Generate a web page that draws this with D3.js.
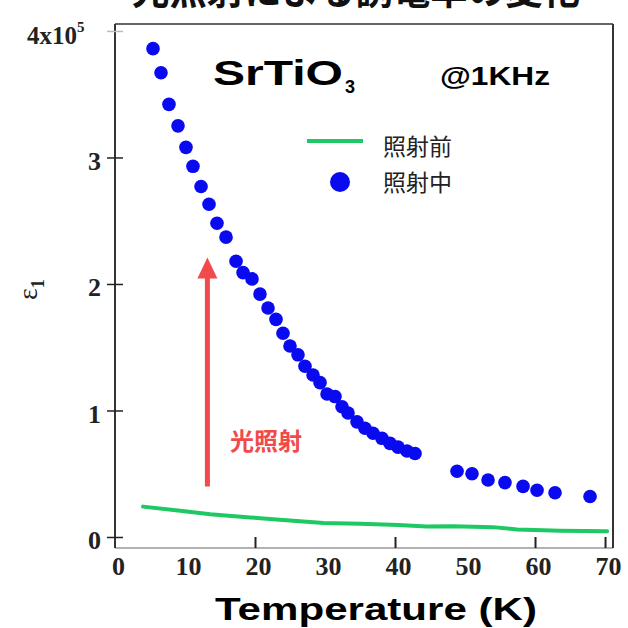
<!DOCTYPE html>
<html>
<head>
<meta charset="utf-8">
<script src="https://cdn.jsdelivr.net/npm/d3@7"></script>
<style>
  body { margin: 0; background: #fff; }
  svg { display: block; }
</style>
</head>
<body>
<div id="chart"></div>
<script>
// data (T in K, eps in units of 1e5)
var xTickLabels = [0, 10, 20, 30, 40, 50, 60, 70];
var xTickMarks = [20, 40, 60, 70];
var yTickLabels = [0, 1, 2, 3];

var beforeT = [4.0, 9.0, 13.6, 19.3, 24.0, 29.8, 35.0, 40.5, 44.5, 48.3, 54.0, 57.4, 63.6, 70.3];
var beforeEps = [0.24, 0.21, 0.18, 0.155, 0.135, 0.11, 0.105, 0.095, 0.083, 0.085, 0.078, 0.06, 0.05, 0.045];

var duringT = [5.43, 6.57, 7.71, 9.0, 10.14, 11.14, 12.29, 13.43, 14.57, 15.86, 17.29, 18.29, 19.57,
  20.71, 21.86, 23.0, 24.0, 25.0, 26.14, 27.14, 28.29, 29.29, 30.29, 31.43, 32.43, 33.29, 34.57,
  35.71, 36.86, 38.14, 39.29, 40.43, 41.71, 42.86, 48.86, 51.0, 53.29, 55.71, 58.29, 60.29, 62.86, 67.86];
var duringEps = [3.86, 3.67, 3.42, 3.25, 3.08, 2.93, 2.77, 2.63, 2.48, 2.37, 2.18, 2.09, 2.04,
  1.92, 1.81, 1.72, 1.61, 1.51, 1.44, 1.35, 1.28, 1.22, 1.13, 1.11, 1.03, 0.98, 0.91,
  0.86, 0.82, 0.78, 0.74, 0.71, 0.68, 0.66, 0.52, 0.50, 0.45, 0.43, 0.40, 0.37, 0.35, 0.32];

var legendLabels = ["照射前", "照射中"];

var W = 628, H = 628;
var serif = "'Liberation Serif', 'Times New Roman', serif";
var sans = "'Liberation Sans', Arial, sans-serif";
var cjk = "'Noto Sans CJK JP', 'Noto Sans CJK SC', sans-serif";

var x = d3.scaleLinear().domain([0, 71.14]).range([115, 613]);
var y = d3.scaleLinear().domain([-0.087, 4.055]).range([548, 24]);

var svg = d3.select("#chart").append("svg")
  .attr("width", W)
  .attr("height", H);

// title, cut off by the top edge like in the original
svg.append("text")
  .attr("x", 132)
  .attr("y", 4)
  .attr("textLength", 448)
  .attr("lengthAdjust", "spacingAndGlyphs")
  .style("font-family", cjk)
  .style("font-weight", "bold")
  .style("font-size", "40px")
  .style("fill", "#111")
  .text("光照射による誘電率の変化");

// frame
var x0 = x.range()[0], x1 = x.range()[1], y0 = y.range()[0], y1 = y.range()[1];
svg.append("line").attr("x1", x0).attr("x2", x1).attr("y1", y0).attr("y2", y0)
  .attr("stroke", "#999").attr("stroke-width", 1.5);
svg.append("line").attr("x1", x0).attr("x2", x1).attr("y1", y1).attr("y2", y1)
  .attr("stroke", "#333").attr("stroke-width", 1.5);
svg.append("line").attr("x1", x1).attr("x2", x1).attr("y1", y1).attr("y2", y0)
  .attr("stroke", "#333").attr("stroke-width", 2);
svg.append("line").attr("x1", x0).attr("x2", x0).attr("y1", y1).attr("y2", y0)
  .attr("stroke", "#333").attr("stroke-width", 2);

// x axis: labels
var xAxis = d3.axisBottom(x).tickValues(xTickLabels).tickSize(0).tickPadding(27)
  .tickFormat(d3.format("d"));
var gx = svg.append("g")
  .attr("transform", "translate(3," + y0 + ")")
  .call(xAxis);
gx.select(".domain").remove();
gx.selectAll("text")
  .attr("dy", 0)
  .style("font-family", serif)
  .style("font-weight", "bold")
  .style("font-size", "26px")
  .style("fill", "#222");

// x axis: inward tick marks
var xMarks = d3.axisBottom(x).tickValues(xTickMarks).tickSize(-11).tickFormat("");
var gm = svg.append("g")
  .attr("transform", "translate(0," + y0 + ")")
  .call(xMarks);
gm.select(".domain").remove();
gm.selectAll("line").attr("stroke", "#222").attr("stroke-width", 2);

// y axis with crossing ticks
var yAxis = d3.axisLeft(y).tickValues(yTickLabels.concat([4])).tickSize(8).tickPadding(0)
  .tickFormat(function (d) { return d === 4 ? "" : d; });
var gy = svg.append("g")
  .attr("transform", "translate(" + x0 + ",0)")
  .call(yAxis);
gy.select(".domain").remove();
gy.selectAll("line")
  .attr("x1", 8).attr("x2", -8)
  .attr("stroke", function (d) { return d === 4 ? "#bbb" : "#222"; })
  .attr("stroke-width", 1.5);
gy.selectAll("text")
  .attr("x", -14)
  .attr("dy", 12)
  .style("font-family", serif)
  .style("font-weight", "bold")
  .style("font-size", "26px")
  .style("fill", "#222");

// 4x10^5 label
var top4 = svg.append("text")
  .attr("x", 27)
  .attr("y", y(4) + 13)
  .style("font-family", serif)
  .style("font-weight", "bold")
  .style("font-size", "25px")
  .style("fill", "#222");
top4.append("tspan").text("4x10");
top4.append("tspan").attr("dy", -12).style("font-size", "15px").text("5");

// y axis title (rotated epsilon_1)
var yt = svg.append("text")
  .attr("transform", "translate(37,300) rotate(-90)")
  .style("font-family", serif)
  .style("font-size", "28px")
  .style("fill", "#222");
yt.append("tspan").text("ε");
yt.append("tspan").attr("dy", 7).style("font-size", "18px").style("font-weight", "bold").text("1");

// x axis title
svg.append("text")
  .attr("x", 215)
  .attr("y", 620)
  .attr("textLength", 322)
  .attr("lengthAdjust", "spacingAndGlyphs")
  .style("font-family", sans)
  .style("font-weight", "bold")
  .style("font-size", "31px")
  .style("fill", "#000")
  .text("Temperature (K)");

// before illumination (green line)
var beforeData = beforeT.map(function (t, i) { return { t: t, e: beforeEps[i] }; });
var line = d3.line()
  .x(function (d) { return x(d.t); })
  .y(function (d) { return y(d.e); });
svg.append("path")
  .datum(beforeData)
  .attr("d", line)
  .attr("fill", "none")
  .attr("stroke", "#1ec864")
  .attr("stroke-width", 4)
  .attr("stroke-linecap", "round");

// during illumination (blue dots)
var duringData = duringT.map(function (t, i) { return { t: t, e: duringEps[i] }; });
svg.selectAll(".dot")
  .data(duringData)
  .enter().append("circle")
  .attr("class", "dot")
  .attr("cx", function (d) { return x(d.t); })
  .attr("cy", function (d) { return y(d.e); })
  .attr("r", 6.8)
  .attr("fill", "#0a0af0");

// red arrow + label
var arrowX = x(13.2), arrowBot = y(0.40), arrowTop = y(2.21);
svg.append("line")
  .attr("x1", arrowX).attr("x2", arrowX)
  .attr("y1", arrowBot).attr("y2", arrowTop + 18)
  .attr("stroke", "#f24a4a").attr("stroke-width", 5);
svg.append("path")
  .attr("d", "M" + arrowX + "," + arrowTop + " L" + (arrowX - 10) + "," + (arrowTop + 21) +
    " L" + (arrowX + 10) + "," + (arrowTop + 21) + " Z")
  .attr("fill", "#f24a4a");
svg.append("text")
  .attr("x", 230)
  .attr("y", 450)
  .style("font-family", cjk)
  .style("font-weight", "bold")
  .style("font-size", "24px")
  .style("fill", "#f24a4a")
  .text("光照射");

// sample and frequency
var st = svg.append("text")
  .attr("x", 213)
  .attr("y", 85)
  .style("font-family", sans)
  .style("font-weight", "bold")
  .style("fill", "#000");
st.append("tspan").attr("textLength", 130).attr("lengthAdjust", "spacingAndGlyphs")
  .style("font-size", "35px").text("SrTiO");
st.append("tspan").attr("dy", 8).attr("dx", 2).style("font-size", "18px").text("3");

svg.append("text")
  .attr("x", 440)
  .attr("y", 85)
  .attr("textLength", 110)
  .attr("lengthAdjust", "spacingAndGlyphs")
  .style("font-family", sans)
  .style("font-weight", "bold")
  .style("font-size", "25px")
  .style("fill", "#000")
  .text("@1KHz");

// legend
svg.append("line")
  .attr("x1", 307).attr("x2", 363).attr("y1", 141).attr("y2", 141)
  .attr("stroke", "#1ec864").attr("stroke-width", 4);
svg.append("circle")
  .attr("cx", 340).attr("cy", 182).attr("r", 10)
  .attr("fill", "#0a0af0");
svg.selectAll(".legtext")
  .data(legendLabels)
  .enter().append("text")
  .attr("class", "legtext")
  .attr("x", 383)
  .attr("y", function (d, i) { return i === 0 ? 155 : 191; })
  .style("font-family", cjk)
  .style("font-size", "23px")
  .style("fill", "#222")
  .text(function (d) { return d; });
</script>
</body>
</html>
